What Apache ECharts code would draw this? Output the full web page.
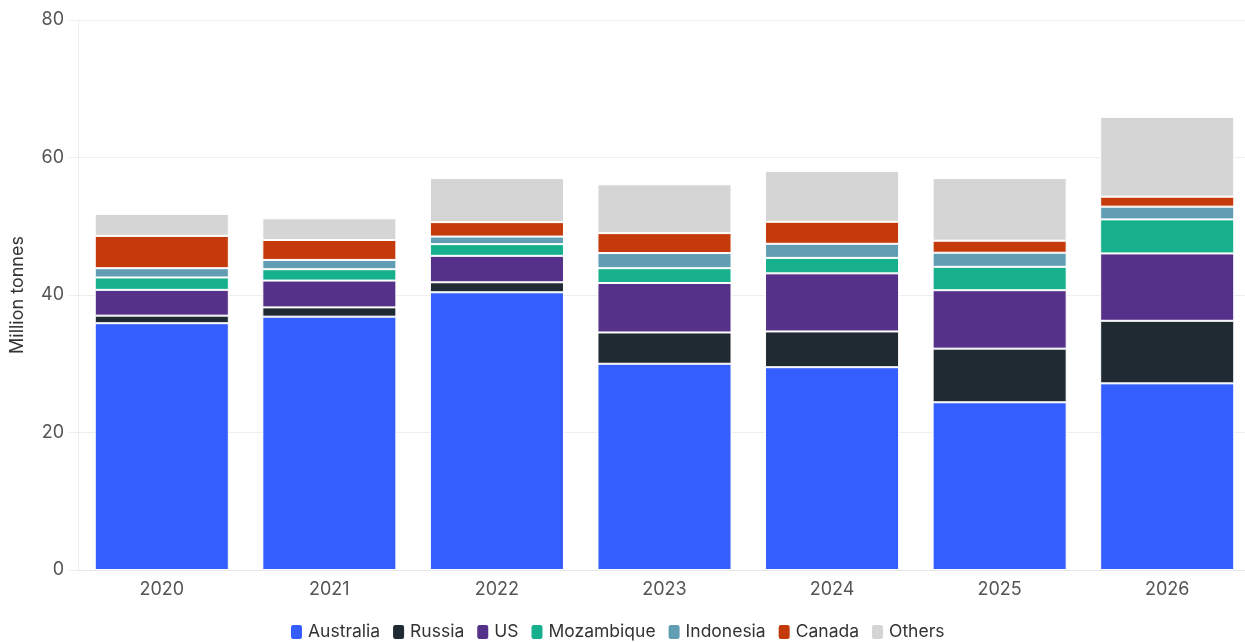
<!DOCTYPE html>
<html>
<head>
<meta charset="utf-8">
<script src="https://cdn.jsdelivr.net/npm/echarts@6/dist/echarts.min.js"></script>
<style>
  html, body { margin: 0; padding: 0; background: #fff; }
  #main { width: 1245px; height: 642px; }
</style>
</head>
<body>
<div id="main"></div>
<script>
// 数据：各国产量（百万吨）
var years = ['2020', '2021', '2022', '2023', '2024', '2025', '2026'];
var yTicks = [0, 20, 40, 60, 80];

var australia  = [35.9, 36.85, 40.4, 30.0, 29.5, 24.4, 27.15];
var russia     = [1.1, 1.35, 1.45, 4.55, 5.2, 7.8, 9.1];
var us         = [3.75, 3.9, 3.85, 7.2, 8.45, 8.5, 9.8];
var mozambique = [1.8, 1.65, 1.7, 2.15, 2.25, 3.4, 4.95];
var indonesia  = [1.35, 1.35, 1.1, 2.2, 2.05, 2.05, 1.85];
var canada     = [4.7, 2.9, 2.1, 2.9, 3.2, 1.75, 1.45];
var others     = [3.2, 3.15, 6.4, 7.1, 7.4, 9.1, 11.6];

var seriesList = [
    { name: 'Australia',  data: australia,  color: '#355eff' },
    { name: 'Russia',     data: russia,     color: '#1f2a33' },
    { name: 'US',         data: us,         color: '#553189' },
    { name: 'Mozambique', data: mozambique, color: '#16b08c' },
    { name: 'Indonesia',  data: indonesia,  color: '#619eb3' },
    { name: 'Canada',     data: canada,     color: '#c43a0a' },
    { name: 'Others',     data: others,     color: '#d5d5d5' }
];

var myChart = echarts.init(document.getElementById('main'));

var option = {
    animation: false,
    textStyle: { fontFamily: 'Inter' },
    grid: {
        left: 78,
        width: 1173,
        top: 20,
        bottom: 72,
        containLabel: false,
        outerBoundsMode: 'none'
    },
    legend: {
        bottom: -4,
        left: 284,
        icon: 'roundRect',
        itemWidth: 13,
        itemHeight: 16,
        itemGap: 11,
        textStyle: { fontSize: 17.5, color: '#333', fontFamily: 'Inter' },
        data: seriesList.map(function (s) { return s.name; })
    },
    xAxis: {
        type: 'category',
        data: years,
        axisLine: { lineStyle: { color: '#e6e6e6' } },
        axisTick: { alignWithLabel: true, length: 5, lineStyle: { color: '#e6e6e6' } },
        axisLabel: { fontSize: 18, color: '#555', margin: 11 }
    },
    yAxis: {
        type: 'value',
        min: yTicks[0],
        max: yTicks[yTicks.length - 1],
        interval: 20,
        name: 'Million tonnes',
        nameLocation: 'middle',
        nameGap: 51,
        nameTextStyle: { fontSize: 18, color: '#333' },
        axisLine: { show: true, lineStyle: { color: '#eeeeee' } },
        axisTick: { show: true, length: 9, lineStyle: { color: '#eeeeee' } },
        axisLabel: { fontSize: 18, color: '#555', margin: 14 },
        splitLine: { lineStyle: { color: '#eeeeee' } }
    },
    series: seriesList.map(function (s) {
        return {
            name: s.name,
            type: 'bar',
            stack: 'total',
            barWidth: '80%',
            data: s.data,
            itemStyle: {
                color: s.color,
                borderColor: '#ffffff',
                borderWidth: 1
            }
        };
    })
};

myChart.setOption(option);
</script>
</body>
</html>
